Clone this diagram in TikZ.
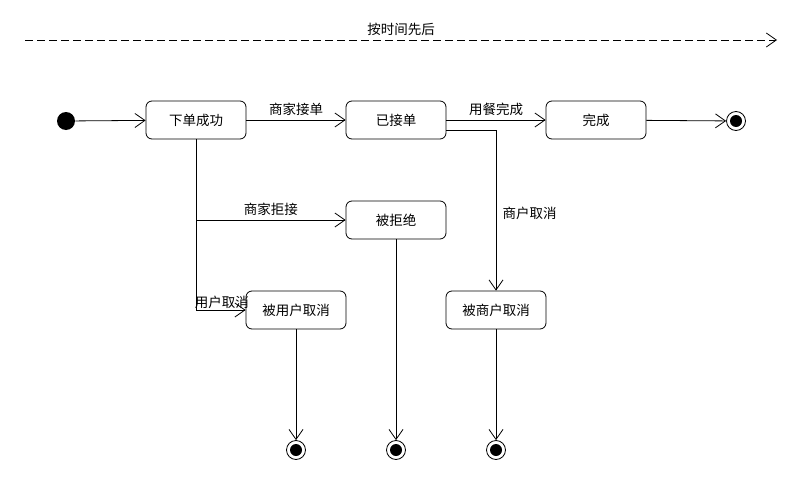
\documentclass[tikz,border=0pt]{standalone}
\usepackage{fontspec}
\newfontfamily\cjk{Noto Sans CJK SC}
\usetikzlibrary{arrows.meta}

\begin{document}
\begin{tikzpicture}[x=1pt,y=-1pt,line width=0.8pt,
  >={Straight Barb[length=10pt,width=14pt,line width=0.8pt]},
  every node/.style={font=\cjk\fontsize{13.5}{16}\selectfont},
  statebox/.style={draw,rounded corners=6pt,minimum width=100pt,minimum height=38pt,inner sep=0pt},
  startstate/.style={circle,fill=black,minimum size=18pt,inner sep=0pt},
  endstate/.style={circle,draw,minimum size=19pt,inner sep=0pt,
    path picture={\fill (path picture bounding box.center) circle (6pt);}}]
\useasboundingbox (0,0) rectangle (800,495);
% time line
\coordinate (tl) at (25,40);
\coordinate (tr) at (777,40);
\draw[->,dash pattern=on 8pt off 4pt] (tl) -- (tr) node[midway,above=1pt] (time) {按时间先后};
% states
\node[startstate] (start) at (66,121) {};
\node[statebox] (placed) at (196,120) {下单成功};
\node[statebox] (accepted) at (396,120) {已接单};
\node[statebox] (done) at (596,120) {完成};
\node[statebox] (rejected) at (396,220) {被拒绝};
\node[statebox] (usercancel) at (296,310) {被用户取消};
\node[statebox] (shopcancel) at (496,310) {被商户取消};
\node[endstate] (enddone) at (736,121) {};
\node[endstate] (enduser) at (296,450) {};
\node[endstate] (endrej) at (396,450) {};
\node[endstate] (endshop) at (496,450) {};
% transitions
\draw[->] (start) -- (placed);
\draw[->] (placed) -- node[above=1pt] (lacc) {商家接单} (accepted);
\draw[->] (accepted) -- node[above=1pt] (lmeal) {用餐完成} (done);
\draw[->] (done) -- (enddone);
\draw[->] (placed.south) |- node[pos=0.75,above=1pt] (lrej) {商家拒接} (rejected.west);
\draw[->] (placed.south) |- node[pos=0.76,above=-2pt] (luser) {用户取消} (usercancel.west);
\draw[->] ([yshift=-10pt]accepted.east) -| node[pos=0.76,right=3pt] (lshop) {商户取消} (shopcancel.north);
% ends
\draw[->] (usercancel) -- (enduser);
\draw[->] (rejected) -- (endrej);
\draw[->] (shopcancel) -- (endshop);
\end{tikzpicture}
\end{document}
